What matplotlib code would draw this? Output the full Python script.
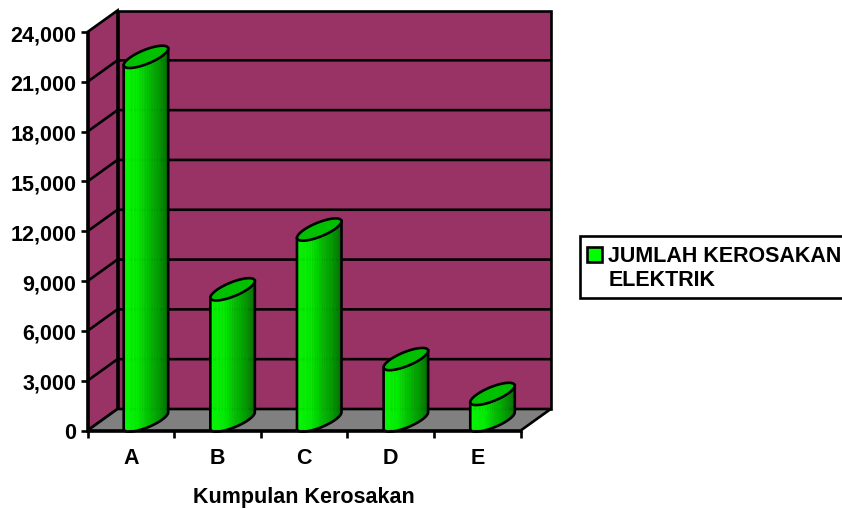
import numpy as np
import matplotlib
matplotlib.use("Agg")
import matplotlib.pyplot as plt
from matplotlib.patches import Polygon, Patch
from matplotlib.collections import PolyCollection
from matplotlib.colors import LinearSegmentedColormap

categories = ["A", "B", "C", "D", "E"]
values = [21900, 7900, 11500, 3700, 1600]
y_ticks = [0, 3000, 6000, 9000, 12000, 15000, 18000, 21000, 24000]
x_title = "Kumpulan Kerosakan"
legend_label = "JUMLAH KEROSAKAN\nELEKTRIK"

plt.rcParams["font.family"] = ["Liberation Sans", "DejaVu Sans"]
plt.rcParams["font.weight"] = "bold"

W, H = 842, 510
fig = plt.figure(figsize=(W / 100, H / 100), dpi=100, facecolor="white")
L, R, T, B = 87.5, 520.7, 33.0, 431.5
ax = fig.add_axes([L / W, 1 - B / H, (R - L) / W, (B - T) / H])
ax.set_xlim(0, 5)
ax.set_ylim(0, 24000)
ax.set_facecolor("none")

px_x = 5 / (R - L)
px_y = 24000 / (B - T)
dx, dy = 30 * px_x, 21.5 * px_y
lw = 1.9
fs = 15.5
ymax = y_ticks[-1]

# walls and floor
ax.add_patch(Polygon([(dx, dy), (5 + dx, dy), (5 + dx, ymax + dy), (dx, ymax + dy)],
                     fc="#993366", ec="black", lw=lw, clip_on=False, zorder=1))
ax.add_patch(Polygon([(0, 0), (dx, dy), (dx, ymax + dy), (0, ymax)],
                     fc="#993366", ec="black", lw=lw, clip_on=False, zorder=1))
ax.add_patch(Polygon([(0, 0), (5, 0), (5 + dx, dy), (dx, dy)],
                     fc="#808080", ec="black", lw=lw, clip_on=False, zorder=1))
for v in y_ticks[1:-1]:
    ax.plot([0, dx, 5 + dx], [v, v + dy, v + dy], color="black", lw=lw,
            clip_on=False, zorder=2, solid_joinstyle="miter")

# cylinders
cmap = LinearSegmentedColormap.from_list(
    "cyl", [(0, "#00FF00"), (0.3, "#00EE00"), (0.55, "#00BE00"), (0.8, "#009A00"), (1, "#007000")])
bar_off = 36.2 * px_x
bar_w = 44.5 * px_x
base = 10 * px_y
skew = 16.5 * px_y
minor = 7.5 * px_y
ts = np.linspace(np.pi, 0, 41)
for i, v in enumerate(values):
    xc = i + bar_off + bar_w / 2
    xs = xc + bar_w / 2 * np.cos(ts)
    low = base + skew / 2 * np.cos(ts) - minor * np.sin(ts)
    strips = []
    cols = []
    for j in range(len(ts) - 1):
        strips.append([(xs[j], low[j]), (xs[j + 1], low[j + 1]),
                       (xs[j + 1], low[j + 1] + v), (xs[j], low[j] + v)])
        cols.append(cmap((xs[j] - xs[0]) / (xs[-1] - xs[0])))
    ax.add_collection(PolyCollection(strips, facecolors=cols, edgecolors=cols, linewidths=0.3,
                                     clip_on=False, zorder=3), autolim=False)
    outline = list(zip(xs, low)) + [(xs[-1], low[-1] + v), (xs[0], low[0] + v)]
    ax.add_patch(Polygon(outline, fc="none", ec="black", lw=lw, clip_on=False, zorder=4))
    tt = np.linspace(0, 2 * np.pi, 80)
    cap = np.column_stack([xc + bar_w / 2 * np.cos(tt),
                           base + v + skew / 2 * np.cos(tt) + minor * np.sin(tt)])
    ax.add_patch(Polygon(cap, fc="#00C000", ec="black", lw=lw, clip_on=False, zorder=5))

# axes
for s in ("top", "right"):
    ax.spines[s].set_visible(False)
for s in ("left", "bottom"):
    ax.spines[s].set_linewidth(lw)
    ax.spines[s].set_zorder(6)
ax.set_yticks(y_ticks)
ax.set_yticklabels([f"{v:,}" for v in y_ticks], fontsize=fs, fontweight="bold")
ax.set_xticks(range(6))
ax.set_xticklabels([])
ax.set_xticks(np.arange(5) + 0.5, minor=True)
ax.set_xticklabels(categories, minor=True, fontsize=fs, fontweight="bold")
ax.tick_params(axis="x", which="major", length=5, width=lw)
ax.tick_params(axis="x", which="minor", length=0, pad=12)
ax.tick_params(axis="y", length=5, width=lw, pad=3)
ax.set_xlabel(x_title, fontsize=fs, fontweight="bold", labelpad=12.5)

leg = fig.legend(handles=[Patch(fc="#00FF00", ec="black", lw=lw, label=legend_label)],
                 loc="upper left", bbox_to_anchor=(580 / W, 1 - 237 / H),
                 bbox_transform=fig.transFigure, borderaxespad=0,
                 fancybox=False, framealpha=1, edgecolor="black",
                 prop={"size": 15.5, "weight": "bold"},
                 handlelength=0.7, handleheight=0.7, handletextpad=0.22,
                 borderpad=0.4, labelspacing=0)
leg.get_frame().set_linewidth(lw)
leg.get_texts()[0].set_linespacing(1.2)
handle = leg.legend_handles[0]
handle.set_y(handle.get_y() + 9.4)
handle.set_x(handle.get_x() - 1)

fig.savefig("out.png", dpi=100)
